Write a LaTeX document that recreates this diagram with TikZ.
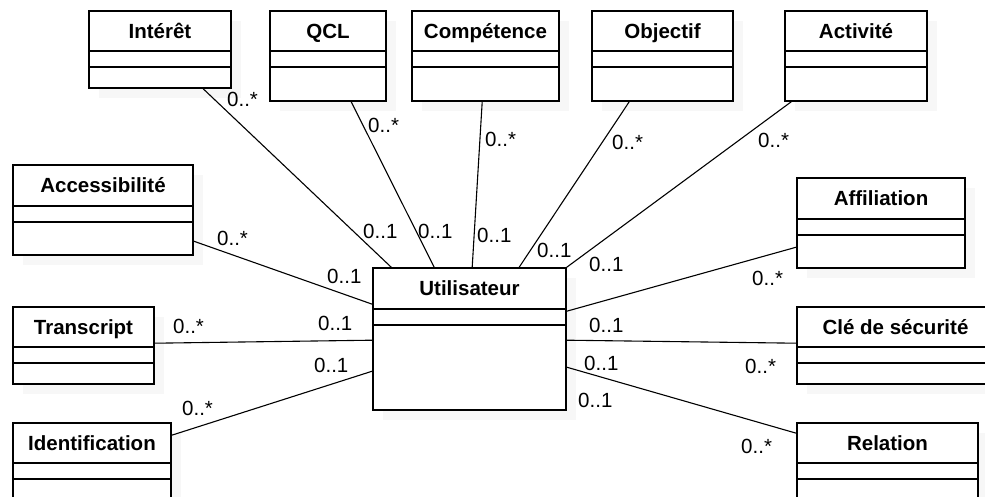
\documentclass[tikz,border=0pt]{standalone}
\usepackage{fontspec}
\setmainfont{Liberation Sans}
\usetikzlibrary{calc,fit}
\tikzset{
  classbox/.style={draw, line width=1.6pt, fill=white, inner sep=0pt},
  classname/.style={font=\bfseries\fontsize{20.5}{24}\selectfont, inner sep=0pt, text height=14.7pt, text depth=0pt},
  compline/.style={line width=1.6pt},
  assoc/.style={line width=1.1pt},
  mult/.style={font=\fontsize{20.5}{24}\selectfont, inner sep=0pt, anchor=base west},
  shadowbox/.style={fill=black!3}
}
\newcommand\umlclass[8]{%
  \fill[shadowbox] ({#2+10},{#3+10}) rectangle ({#4+10},{#5+10});
  \node[classbox, fit={(#2,#3) (#4,#5)}] (#1) {};
  \node[classname] (#1-name) at (#1.north |- 0,{(#3+#6)/2}) {#8};
  \draw[compline] (#1.west |- 0,#6) -- (#1.east |- 0,#6);
  \draw[compline] (#1.west |- 0,#7) -- (#1.east |- 0,#7);
}
\begin{document}
\begin{tikzpicture}[x=1pt,y=-1pt]
\useasboundingbox[fill=white] (0,0) rectangle (985,497);
\clip (0,0) rectangle (985,497);
% classes
\umlclass{intr}{89}{11}{231}{88}{51}{67}{Intérêt}
\umlclass{qcl}{270}{11}{386}{101}{51}{67}{QCL}
\umlclass{comp}{412}{11}{559}{101}{51}{67}{Compétence}
\umlclass{obj}{592}{11}{733}{101}{51}{67}{Objectif}
\umlclass{act}{785}{11}{927}{101}{51}{67}{Activité}
\umlclass{acc}{13}{165}{193}{255}{206}{222}{Accessibilité}
\umlclass{aff}{797}{178}{965}{268}{219}{235}{Affiliation}
\umlclass{trans}{13}{307}{154}{384}{347}{363}{Transcript}
\umlclass{ident}{13}{423}{171}{520}{463}{479}{Identification}
\umlclass{util}{373}{268}{566}{410}{309}{325}{Utilisateur}
\umlclass{cle}{797}{307}{994}{384}{347}{363}{Clé de sécurité}
\umlclass{rel}{797}{423}{978}{520}{463}{479}{Relation}
% associations
\draw[assoc] ($(intr.south west)+(115,0)$) -- ($(util.north west)+(19,0)$);
\draw[assoc] ($(qcl.south west)+(82,0)$) -- ($(util.north west)+(62,0)$);
\draw[assoc] ($(comp.south west)+(71,0)$) -- ($(util.north west)+(100,0)$);
\draw[assoc] ($(obj.south west)+(38,0)$) -- ($(util.north west)+(147,0)$);
\draw[assoc] ($(act.south west)+(7,0)$) -- (util.north east);
\draw[assoc] ($(acc.north east)+(0,77)$) -- ($(util.north west)+(0,37)$);
\draw[assoc] ($(trans.north east)+(0,37)$) -- ($(util.north west)+(0,73)$);
\draw[assoc] ($(ident.north east)+(0,13)$) -- ($(util.north west)+(0,104)$);
\draw[assoc] ($(util.north east)+(0,44)$) -- ($(aff.north west)+(0,70)$);
\draw[assoc] ($(util.north east)+(0,73)$) -- ($(cle.north west)+(0,37)$);
\draw[assoc] ($(util.north east)+(0,100)$) -- ($(rel.north west)+(0,11)$);
% multiplicities
\node[mult] (m1) at (227,107) {0..*};
\node[mult] (m2) at (363,238) {0..1};
\node[mult] (m3) at (368,133) {0..*};
\node[mult] (m4) at (418,238) {0..1};
\node[mult] (m5) at (485,147) {0..*};
\node[mult] (m6) at (477,243) {0..1};
\node[mult] (m7) at (612,150) {0..*};
\node[mult] (m8) at (537,258) {0..1};
\node[mult] (m9) at (758,148) {0..*};
\node[mult] (m10) at (589,271) {0..1};
\node[mult] (m11) at (217,245) {0..*};
\node[mult] (m12) at (327,283) {0..1};
\node[mult] (m13) at (173,333) {0..*};
\node[mult] (m14) at (318,330) {0..1};
\node[mult] (m15) at (182,415) {0..*};
\node[mult] (m16) at (314,372) {0..1};
\node[mult] (m17) at (752,285) {0..*};
\node[mult] (m18) at (589,332) {0..1};
\node[mult] (m19) at (745,373) {0..*};
\node[mult] (m20) at (584,370) {0..1};
\node[mult] (m21) at (578,407) {0..1};
\node[mult] (m22) at (741,453) {0..*};
\end{tikzpicture}
\end{document}
